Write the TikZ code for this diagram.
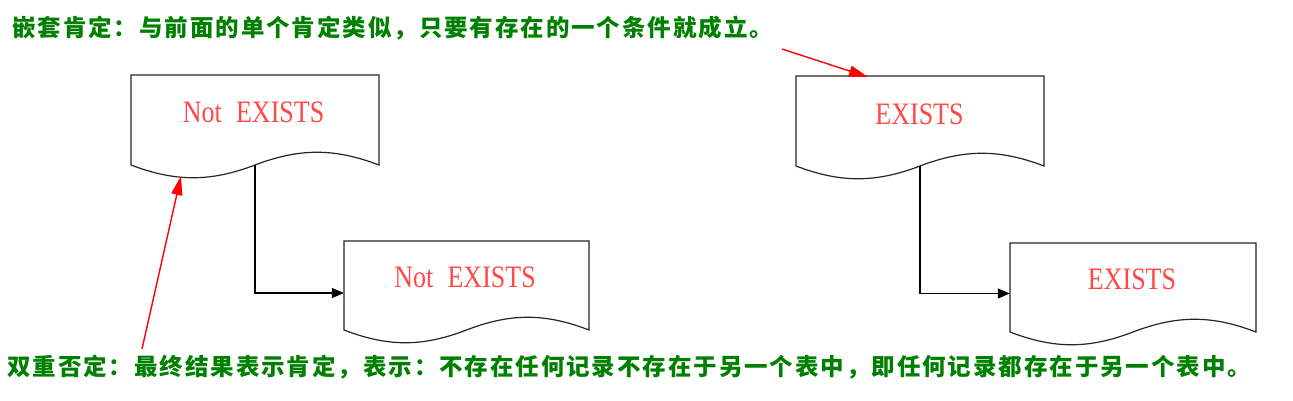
\documentclass[tikz,border=0pt]{standalone}
\usepackage{fontspec}
\setmainfont{Liberation Serif}
\newfontfamily\cjk{Noto Sans CJK SC}[LetterSpace=8.2]
\usetikzlibrary{arrows.meta}
\definecolor{txtgreen}{RGB}{0,128,0}
\definecolor{lblred}{RGB}{255,72,72}
\definecolor{arrred}{RGB}{255,0,0}
\newcommand\docpath[4]{%
  \draw[docline] (#1,#4) -- (#1,#2) -- (#3,#2) -- (#3,#4)
    .. controls ({#3-0.18*(#3-#1)},{#4-17}) and ({#3-0.32*(#3-#1)},{#4-17}) .. ({(#1+#3)/2},#4)
    .. controls ({#1+0.32*(#3-#1)},{#4+17}) and ({#1+0.18*(#3-#1)},{#4+17}) .. (#1,#4) -- cycle;}
\begin{document}
\begin{tikzpicture}[x=1pt,y=-1pt,
  docline/.style={draw=black!85, line width=1.2pt},
  conn/.style={draw=black, line width=1.2pt, -{Triangle[length=12pt,width=10pt]}},
  note/.style={draw=arrred, line width=1.4pt, -{Triangle[length=19pt,width=11pt]}},
  holder/.style={draw=none, inner sep=0pt},
  gtext/.style={inner sep=0pt, text=txtgreen, font=\cjk\bfseries\fontsize{23.5}{25}\selectfont},
  lbl/.style={inner sep=0pt, text=lblred, font=\fontsize{26}{28}\selectfont}]
\useasboundingbox (0,0) rectangle (1293,400);
\fill[white] (0,0) rectangle (1293,400);

% document shapes
\docpath{131}{75}{379}{165}
\docpath{344}{241}{589}{330}
\docpath{796}{76}{1044}{166}
\docpath{1010}{243}{1256}{332}

\node[holder, minimum width=248pt, minimum height=103pt] (b1) at (255,126.5) {};
\node[holder, minimum width=245pt, minimum height=104pt] (b2) at (466.5,293) {};
\node[holder, minimum width=248pt, minimum height=103pt] (b3) at (920,127.5) {};
\node[holder, minimum width=246pt, minimum height=101pt] (b4) at (1133,293.5) {};

\node[lbl, anchor=base] (l1) at (253.5,122) {\scalebox{1}[1.2]{Not\hspace{0.3em} EXISTS}};
\node[lbl, anchor=base] (l2) at (465,287) {\scalebox{1}[1.2]{Not\hspace{0.3em} EXISTS}};
\node[lbl, anchor=base] (l3) at (919.5,124) {\scalebox{1}[1.2]{EXISTS}};
\node[lbl, anchor=base] (l4) at (1132,289) {\scalebox{1}[1.2]{EXISTS}};

% connectors
\coordinate (j1) at (255,165);
\coordinate (j3) at (920,166);
\draw[conn] (j1) |- (b2.west);
\draw[conn] (j3) |- (b4.west);

% texts
\node[gtext, anchor=base west] (t1) at (12,36) {嵌套肯定：与前面的单个肯定类似，只要有存在的一个条件就成立。};
\node[gtext, anchor=base west] (t2) at (7,375) {双重否定：最终结果表示肯定，表示：不存在任何记录不存在于另一个表中，即任何记录都存在于另一个表中。};

% red pointers
\coordinate (p1) at (142,349);
\coordinate (q1) at (181,176);
\coordinate (p2) at (782,49);
\coordinate (q2) at (868,77);
\draw[note] (p1) -- (q1);
\draw[note] (p2) -- (q2);
\end{tikzpicture}
\end{document}
